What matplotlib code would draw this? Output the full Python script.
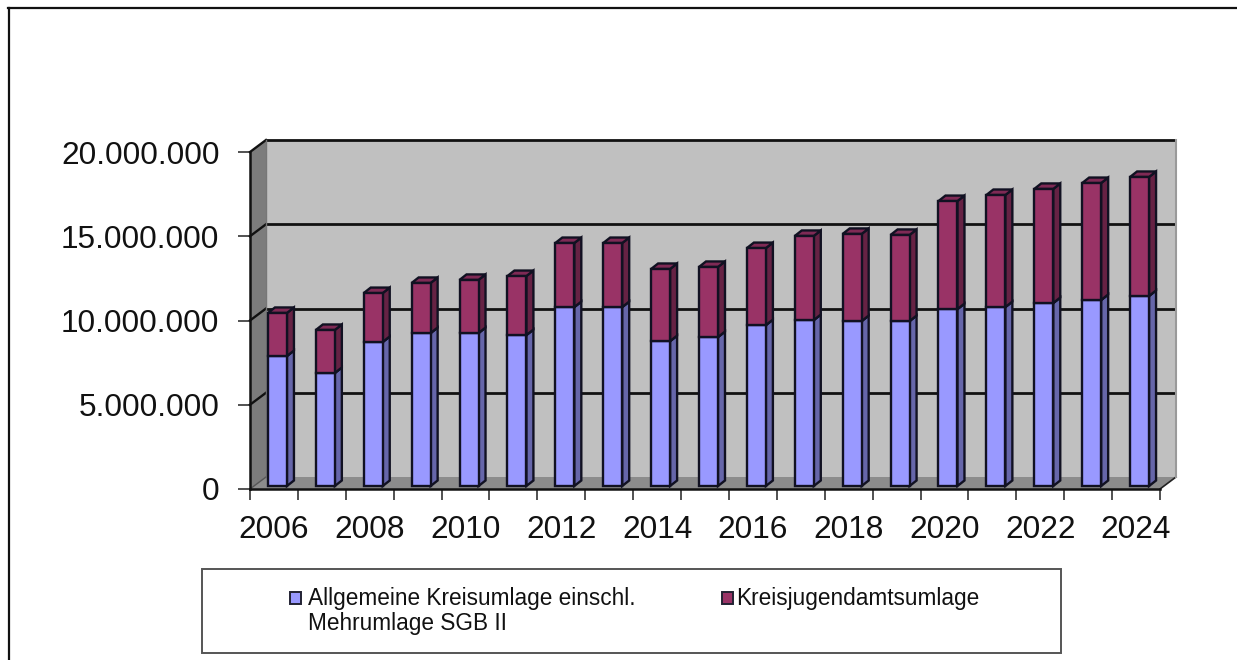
import matplotlib
matplotlib.use("Agg")
import matplotlib.pyplot as plt
from matplotlib.patches import Polygon, Rectangle
from matplotlib.ticker import FuncFormatter

plt.rcParams['font.family'] = ['Liberation Sans', 'DejaVu Sans']

years = list(range(2006, 2025))
kreisumlage = [7715000, 6710000, 8550000, 9080000, 9080000, 8960000, 10620000, 10620000, 8600000, 8840000,
               9550000, 9850000, 9790000, 9790000, 10500000, 10620000, 10860000, 11040000, 11280000]
jugendamt = [2555000, 2550000, 2900000, 2970000, 3150000, 3500000, 3800000, 3800000, 4280000, 4160000,
             4570000, 4990000, 5170000, 5110000, 6410000, 6650000, 6770000, 6940000, 7060000]
legend_labels = ["Allgemeine Kreisumlage einschl.\nMehrumlage SGB II", "Kreisjugendamtsumlage"]

W, H = 1237, 660
fig = plt.figure(figsize=(W / 100, H / 100), dpi=100)

# front plane of the fake 3d box
ax = fig.add_axes([250 / W, 1 - 489 / H, 910 / W, 337 / H])
ax.set_xlim(0, 19)
ax.set_ylim(0, 20000000)
ax.patch.set_visible(False)

px_x = 19 / 910
px_y = 20000000 / 337

# depth of the walls and of the bars, in pixels
wall_x, wall_y = 16 * px_x, 12 * px_y
bar_x, bar_y = 7 * px_x, 5.5 * px_y
base_x, base_y = 3.5 * px_x, 3 * px_y
bar_w = 19 * px_x
edge = 1.7


def face(pts, color, z):
    ax.add_patch(Polygon(pts, closed=True, facecolor=color, edgecolor='none', zorder=z, clip_on=False))


top = 20000000
face([(wall_x, wall_y), (19 + wall_x, wall_y), (19 + wall_x, top + wall_y), (wall_x, top + wall_y)], '#c0c0c0', 1)
face([(0, 0), (wall_x, wall_y), (wall_x, top + wall_y), (0, top)], '#7c7c7c', 1)
face([(0, 0), (19, 0), (19 + wall_x, wall_y), (wall_x, wall_y)], '#8c8c8c', 1)

for v in [5000000, 10000000, 15000000, 20000000]:
    ax.plot([wall_x, 19 + wall_x], [v + wall_y, v + wall_y], color='#111111', lw=2.0, zorder=2, clip_on=False,
            solid_capstyle='butt')
    ax.plot([0, wall_x], [v, v + wall_y], color='#111111', lw=1.7, zorder=2, clip_on=False)
ax.plot([0, wall_x], [0, wall_y], color='#555555', lw=1, zorder=2, clip_on=False)
ax.plot([19, 19 + wall_x], [0, wall_y], color='#222222', lw=1.2, zorder=2, clip_on=False)
ax.plot([19 + wall_x, 19 + wall_x], [wall_y, top + wall_y], color='#9a9a9a', lw=1.5, zorder=2, clip_on=False)
ax.plot([wall_x, wall_x], [wall_y, top + wall_y], color='#777777', lw=1, zorder=2, clip_on=False)

for i in range(len(years)):
    x0 = i + (1 - bar_w) / 2 + base_x
    x1 = x0 + bar_w
    seg = [(0, kreisumlage[i], '#9999ff', '#6666aa'),
           (kreisumlage[i], kreisumlage[i] + jugendamt[i], '#993366', '#662244')]
    for y0, y1, col, side in seg:
        b0, b1 = y0 + base_y, y1 + base_y
        ax.add_patch(Polygon([(x1, b0), (x1 + bar_x, b0 + bar_y), (x1 + bar_x, b1 + bar_y), (x1, b1)], closed=True,
                             facecolor=side, edgecolor='#111122', lw=edge, zorder=3, clip_on=False))
        ax.add_patch(Polygon([(x0, b1), (x1, b1), (x1 + bar_x, b1 + bar_y), (x0 + bar_x, b1 + bar_y)], closed=True,
                             facecolor=side if col == '#9999ff' else '#7f2a55', edgecolor='#111122', lw=edge,
                             zorder=3, clip_on=False))
        ax.add_patch(Rectangle((x0, b0), bar_w, y1 - y0, facecolor=col, edgecolor='#111122', lw=edge,
                               zorder=4, clip_on=False))

for name in ['top', 'right']:
    ax.spines[name].set_visible(False)
for name in ['left', 'bottom']:
    ax.spines[name].set_linewidth(1.8)
    ax.spines[name].set_color('#111111')
    ax.spines[name].set_zorder(5)

ax.set_yticks([0, 5000000, 10000000, 15000000, 20000000])
ax.yaxis.set_major_formatter(FuncFormatter(lambda v, p: f"{int(v):,}".replace(",", ".")))
ax.tick_params(axis='y', length=9, width=1.2, color='#333333', labelsize=22.8, labelcolor='#111111', pad=13)

ax.set_xticks(range(len(years) + 1))
ax.set_xticklabels([])
ax.tick_params(axis='x', which='major', length=8, width=1.2, color='#333333')
ax.set_xticks([i + 0.5 for i in range(0, len(years), 2)], minor=True)
ax.set_xticklabels([str(y) for y in years[::2]], minor=True)
ax.tick_params(axis='x', which='minor', length=0, labelsize=22.8, labelcolor='#111111', pad=19)

# legend box, outer frame
fig.add_artist(Rectangle((202 / W, 1 - 653 / H), 859 / W, 84 / H, transform=fig.transFigure,
                         facecolor='white', edgecolor='#555555', lw=1.4))
fig.add_artist(Rectangle((289.5 / W, 1 - 603.5 / H), 11 / W, 12 / H, transform=fig.transFigure,
                         facecolor='#9999ff', edgecolor='#222233', lw=1.4))
fig.add_artist(Rectangle((721.5 / W, 1 - 603.5 / H), 11 / W, 12 / H, transform=fig.transFigure,
                         facecolor='#993366', edgecolor='#222233', lw=1.4))
fig.text(308 / W, 1 - 611 / H, legend_labels[0], fontsize=16.3, color='#111111', va='center', linespacing=1.13)
fig.text(736 / W, 1 - 598 / H, legend_labels[1], fontsize=16.3, color='#111111', va='center')

fig.add_artist(plt.Line2D([8.5 / W, 8.5 / W], [0, 1 - 8 / H], color='#111111', lw=1.6))
fig.add_artist(plt.Line2D([8 / W, 1], [1 - 8 / H, 1 - 8 / H], color='#111111', lw=1.6))

fig.savefig("out.png", dpi=100)
